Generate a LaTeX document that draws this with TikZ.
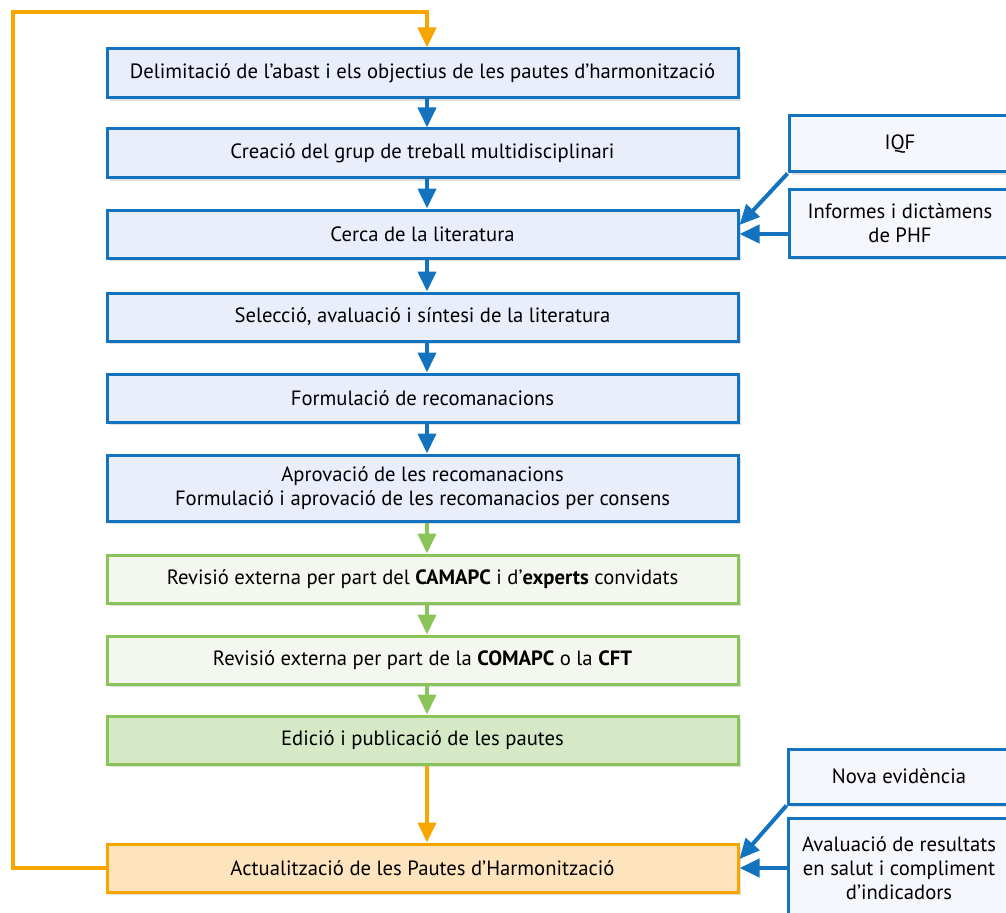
\documentclass[tikz,border=0pt]{standalone}
\usepackage{fontspec}
\setmainfont{PT Sans}
\usetikzlibrary{arrows.meta,shadows}

\definecolor{blueline}{RGB}{20,115,190}
\definecolor{bluefill}{RGB}{233,238,250}
\definecolor{sidefill}{RGB}{245,247,253}
\definecolor{greenline}{RGB}{138,196,88}
\definecolor{greenpale}{RGB}{244,247,240}
\definecolor{greenfill}{RGB}{214,233,199}
\definecolor{orangeline}{RGB}{247,166,0}
\definecolor{orangefill}{RGB}{253,228,189}

\begin{document}
\begin{tikzpicture}[x=.75pt,y=-.75pt,
   font=\fontsize{15.5}{18}\selectfont,
   stepbox/.style={draw=blueline,fill=bluefill,line width=2.25pt,inner sep=0pt,
      minimum width=631*.75pt,minimum height=48*.75pt,align=center,
      drop shadow={opacity=.25,shadow xshift=2pt,shadow yshift=-2pt}},
   greenbox/.style={stepbox,draw=greenline,fill=greenpale},
   sidebox/.style={stepbox,fill=sidefill,minimum width=222*.75pt},
   bluearr/.style={draw=blueline,line width=3pt,-{Triangle[length=15pt,width=13.5pt]}},
   greenarr/.style={bluearr,draw=greenline},
   orangearr/.style={bluearr,draw=orangeline}]
   \useasboundingbox (0,0) rectangle (1006,913);
   \clip (0,0) rectangle (1006,913);

   % Main steps
   \node[stepbox,minimum height=49*.75pt] (delim) at (422.5,73.5) {Delimitació de l’abast i els objectius de les pautes d’harmonització};
   \node[stepbox,minimum height=49*.75pt] (grup) at (422.5,153.5) {Creació del grup de treball multidisciplinari};
   \node[stepbox] (cerca) at (422.5,234) {Cerca de la literatura};
   \node[stepbox] (selec) at (422.5,317) {Selecció, avaluació i síntesi de la literatura};
   \node[stepbox] (formul) at (422.5,398) {Formulació de recomanacions};
   \node[stepbox,minimum height=66*.75pt] (aprov) at (422.5,488) {Aprovació de les recomanacions\\Formulació i aprovació de les recomanacios per consens};
   \node[greenbox] (revcam) at (422.5,579) {Revisió externa per part del \textbf{CAMAPC} i d’\textbf{experts} convidats};
   \node[greenbox] (revcom) at (422.5,660) {Revisió externa per part de la \textbf{COMAPC} o la \textbf{CFT}};
   \node[greenbox,fill=greenfill] (edicio) at (422.5,740) {Edició i publicació de les pautes};
   \node[stepbox,draw=orangeline,fill=orangefill] (actual) at (422.5,868) {Actualització de les Pautes d’Harmonització};

   % Side inputs
   \node[sidebox,minimum height=56*.75pt] (iqf) at (900,144) {IQF};
   \node[sidebox,minimum height=68*.75pt] (informes) at (900,223) {Informes i dictàmens\\de PHF};
   \node[sidebox,minimum height=55*.75pt] (nova) at (899,776.5) {Nova evidència};
   \node[sidebox,minimum height=100*.75pt] (avalua) at (899,868) {Avaluació de resultats\\en salut i compliment\\d’indicadors};

   % Connectors
   \coordinate (ax) at (427,0);
   \coordinate (loop) at (12.5,12);
   \foreach \a/\b in {delim/grup,grup/cerca,cerca/selec,selec/formul,formul/aprov}
      \draw[bluearr] (\a.south -| ax) -- (\b.north -| ax);
   \foreach \a/\b in {aprov/revcam,revcam/revcom,revcom/edicio}
      \draw[greenarr] (\a.south -| ax) -- (\b.north -| ax);
   \draw[orangearr] (edicio.south -| ax) -- (actual.north -| ax);
   \draw[orangearr] (actual.west) -| (loop) -| (delim.north -| ax);

   \draw[bluearr] (iqf.south west) -- ([yshift=6.75pt]cerca.east);
   \draw[bluearr] (informes.west |- cerca.east) -- (cerca.east);
   \draw[bluearr] (nova.south west) -- ([yshift=6.75pt]actual.east);
   \draw[bluearr] (avalua.west |- actual.east) -- (actual.east);
\end{tikzpicture}
\end{document}
